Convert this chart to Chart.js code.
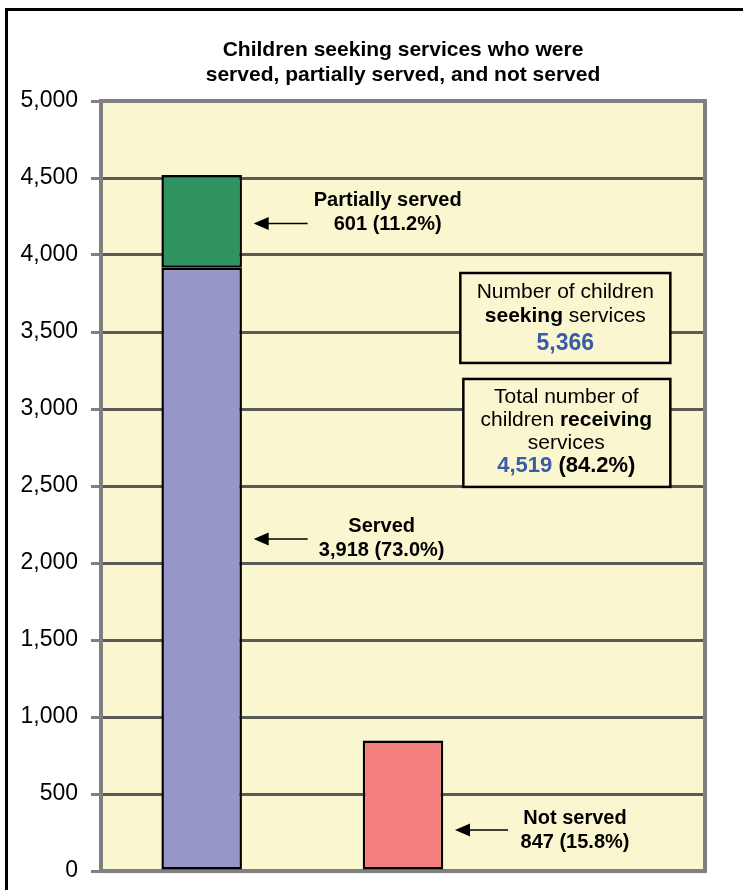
<!DOCTYPE html>
<html>
<head>
<meta charset="utf-8">
<script src="https://cdn.jsdelivr.net/npm/chart.js@4"></script>
<style>
  html, body { margin: 0; padding: 0; background: #fff; }
</style>
</head>
<body>
<canvas id="myChart" width="743" height="890"></canvas>
<script>
// chart values
const categories = ["Served / partially served", "Not served", ""];
const servedValues = [3918, null, null];
const partialValues = [601, null, null];
const notServedValues = [null, 847, null];
const percentValues = { served: 73.0, partial: 11.2, notServed: 15.8, receiving: 84.2 };
const seekingTotal = 5366;
const receivingTotal = 4519;
const titleLines = ["Children seeking services who were", "served, partially served, and not served"];
const yMax = 5000;
const yStep = 500;

const FONT = "'Liberation Sans', Arial, sans-serif";
const fmt = (n) => n.toLocaleString("en-US");

// draw a line of text made of several styled pieces, centred on cx
function drawRuns(ctx, runs, cx, y, size) {
    let total = 0;
    runs.forEach((r) => {
        ctx.font = (r.bold ? "bold " : "") + size + "px " + FONT;
        r.w = ctx.measureText(r.t).width;
        total += r.w;
    });
    let x = cx - total / 2;
    ctx.textAlign = "left";
    ctx.textBaseline = "middle";
    runs.forEach((r) => {
        ctx.font = (r.bold ? "bold " : "") + size + "px " + FONT;
        ctx.fillStyle = r.color || "#000";
        ctx.fillText(r.t, x, y);
        x += r.w;
    });
}

function drawArrow(ctx, x1, x2, y) {
    ctx.save();
    ctx.strokeStyle = "#000";
    ctx.fillStyle = "#000";
    ctx.lineWidth = 1.5;
    ctx.beginPath();
    ctx.moveTo(x1 + 12, y);
    ctx.lineTo(x2, y);
    ctx.stroke();
    ctx.beginPath();
    ctx.moveTo(x1, y);
    ctx.lineTo(x1 + 15, y - 6.5);
    ctx.lineTo(x1 + 15, y + 6.5);
    ctx.closePath();
    ctx.fill();
    ctx.restore();
}

const framePlugin = {
    id: "frame",
    beforeDraw(chart) {
        const { ctx, chartArea: a } = chart;
        ctx.save();
        // outer black frame (right/bottom run off the picture)
        ctx.strokeStyle = "#000";
        ctx.lineWidth = 3;
        ctx.strokeRect(6.5, 9.5, 800, 900);
        // yellow plot background
        ctx.fillStyle = "#FAF6CF";
        ctx.fillRect(a.left, a.top, a.right - a.left, a.bottom - a.top + 3);
        ctx.restore();
    },
    beforeDatasetsDraw(chart) {
        const { ctx, chartArea: a } = chart;
        ctx.save();
        ctx.strokeStyle = "#808080";
        ctx.lineWidth = 4;
        ctx.strokeRect(a.left, a.top, a.right - a.left, a.bottom - a.top);
        ctx.restore();
    },
    afterDatasetsDraw(chart) {
        const { ctx, scales } = chart;
        const x = scales.x, y = scales.y;
        const c0 = x.getPixelForValue(0);
        const c1 = x.getPixelForValue(1);
        const c2 = x.getPixelForValue(2);
        ctx.save();

        // Partially served
        drawArrow(ctx, c0 + 52, c0 + 106, y.getPixelForValue(4205));
        drawRuns(ctx, [{ t: "Partially served", bold: true }], c0 + 186, y.getPixelForValue(4355), 20);
        drawRuns(ctx, [{ t: fmt(partialValues[0]) + " (" + percentValues.partial.toFixed(1) + "%)", bold: true }], c0 + 186, y.getPixelForValue(4195), 20);

        // Served
        drawArrow(ctx, c0 + 52, c0 + 106, y.getPixelForValue(2156));
        drawRuns(ctx, [{ t: "Served", bold: true }], c0 + 180, y.getPixelForValue(2234), 20);
        drawRuns(ctx, [{ t: fmt(servedValues[0]) + " (" + percentValues.served.toFixed(1) + "%)", bold: true }], c0 + 180, y.getPixelForValue(2084), 20);

        // Not served
        drawArrow(ctx, c1 + 52, c1 + 105, y.getPixelForValue(266));
        drawRuns(ctx, [{ t: "Not served", bold: true }], c1 + 172, y.getPixelForValue(344), 20);
        drawRuns(ctx, [{ t: fmt(notServedValues[1]) + " (" + percentValues.notServed.toFixed(1) + "%)", bold: true }], c1 + 172, y.getPixelForValue(188), 20);

        // text boxes
        const bx = c2 - 39;
        const box = (top, bottom, left, right) => {
            const t = y.getPixelForValue(top), b = y.getPixelForValue(bottom);
            ctx.fillStyle = "#FAF6CF";
            ctx.fillRect(bx + left, t, right - left, b - t);
            ctx.strokeStyle = "#000";
            ctx.lineWidth = 2.5;
            ctx.strokeRect(bx + left, t, right - left, b - t);
        };
        box(3883, 3299, -105, 105);
        drawRuns(ctx, [{ t: "Number of children" }], bx, y.getPixelForValue(3760), 21);
        drawRuns(ctx, [{ t: "seeking", bold: true }, { t: " services" }], bx, y.getPixelForValue(3604), 21);
        drawRuns(ctx, [{ t: fmt(seekingTotal), bold: true, color: "#3A5BA8" }], bx, y.getPixelForValue(3422), 23);

        box(3195, 2494, -102, 105);
        drawRuns(ctx, [{ t: "Total number of" }], bx + 1, y.getPixelForValue(3078), 21);
        drawRuns(ctx, [{ t: "children " }, { t: "receiving", bold: true }], bx + 1, y.getPixelForValue(2928), 21);
        drawRuns(ctx, [{ t: "services" }], bx + 1, y.getPixelForValue(2779), 21);
        drawRuns(ctx, [{ t: fmt(receivingTotal), bold: true, color: "#3A5BA8" }, { t: " (" + percentValues.receiving.toFixed(1) + "%)", bold: true }], bx + 1, y.getPixelForValue(2630), 22);

        ctx.restore();
    },
};

const ctx = document.getElementById("myChart").getContext("2d");

new Chart(ctx, {
    type: "bar",
    data: {
        labels: categories,
        datasets: [
            {
                label: "Served",
                data: servedValues,
                backgroundColor: "#9696C8",
                borderColor: "#000",
                borderWidth: 2.5,
                borderSkipped: false,
            },
            {
                label: "Partially served",
                data: partialValues,
                backgroundColor: "#2F9462",
                borderColor: "#000",
                borderWidth: 2.5,
                borderSkipped: false,
            },
            {
                label: "Not served",
                data: notServedValues,
                backgroundColor: "#F27E7E",
                borderColor: "#000",
                borderWidth: 2.5,
                borderSkipped: false,
            },
        ],
    },
    options: {
        responsive: false,
        animation: false,
        barPercentage: 0.4,
        categoryPercentage: 1.0,
        layout: {
            padding: { left: 0, right: 38, top: 0, bottom: 19 },
        },
        plugins: {
            legend: { display: false },
            tooltip: { enabled: false },
            title: {
                display: true,
                fullSize: false,
                text: titleLines,
                color: "#000",
                font: { family: FONT, size: 21, weight: "bold", lineHeight: "25px" },
                padding: { top: 38, bottom: 13 },
            },
        },
        scales: {
            x: {
                display: false,
                stacked: true,
            },
            y: {
                stacked: true,
                min: 0,
                max: yMax,
                afterFit: (scale) => {
                    scale.width = 101;
                    scale.paddingTop = 0;
                    scale.paddingBottom = 0;
                },
                ticks: {
                    stepSize: yStep,
                    color: "#000",
                    padding: 13,
                    font: { family: FONT, size: 23 },
                    callback: (v) => fmt(v),
                },
                grid: {
                    color: (c) => (c.tick && (c.tick.value === 0 || c.tick.value === yMax) ? "#808080" : "#595959"),
                    lineWidth: 3,
                    tickLength: 10,
                    tickColor: "#808080",
                },
                border: { color: "#808080", width: 4 },
            },
        },
    },
    plugins: [framePlugin],
});
</script>
</body>
</html>
